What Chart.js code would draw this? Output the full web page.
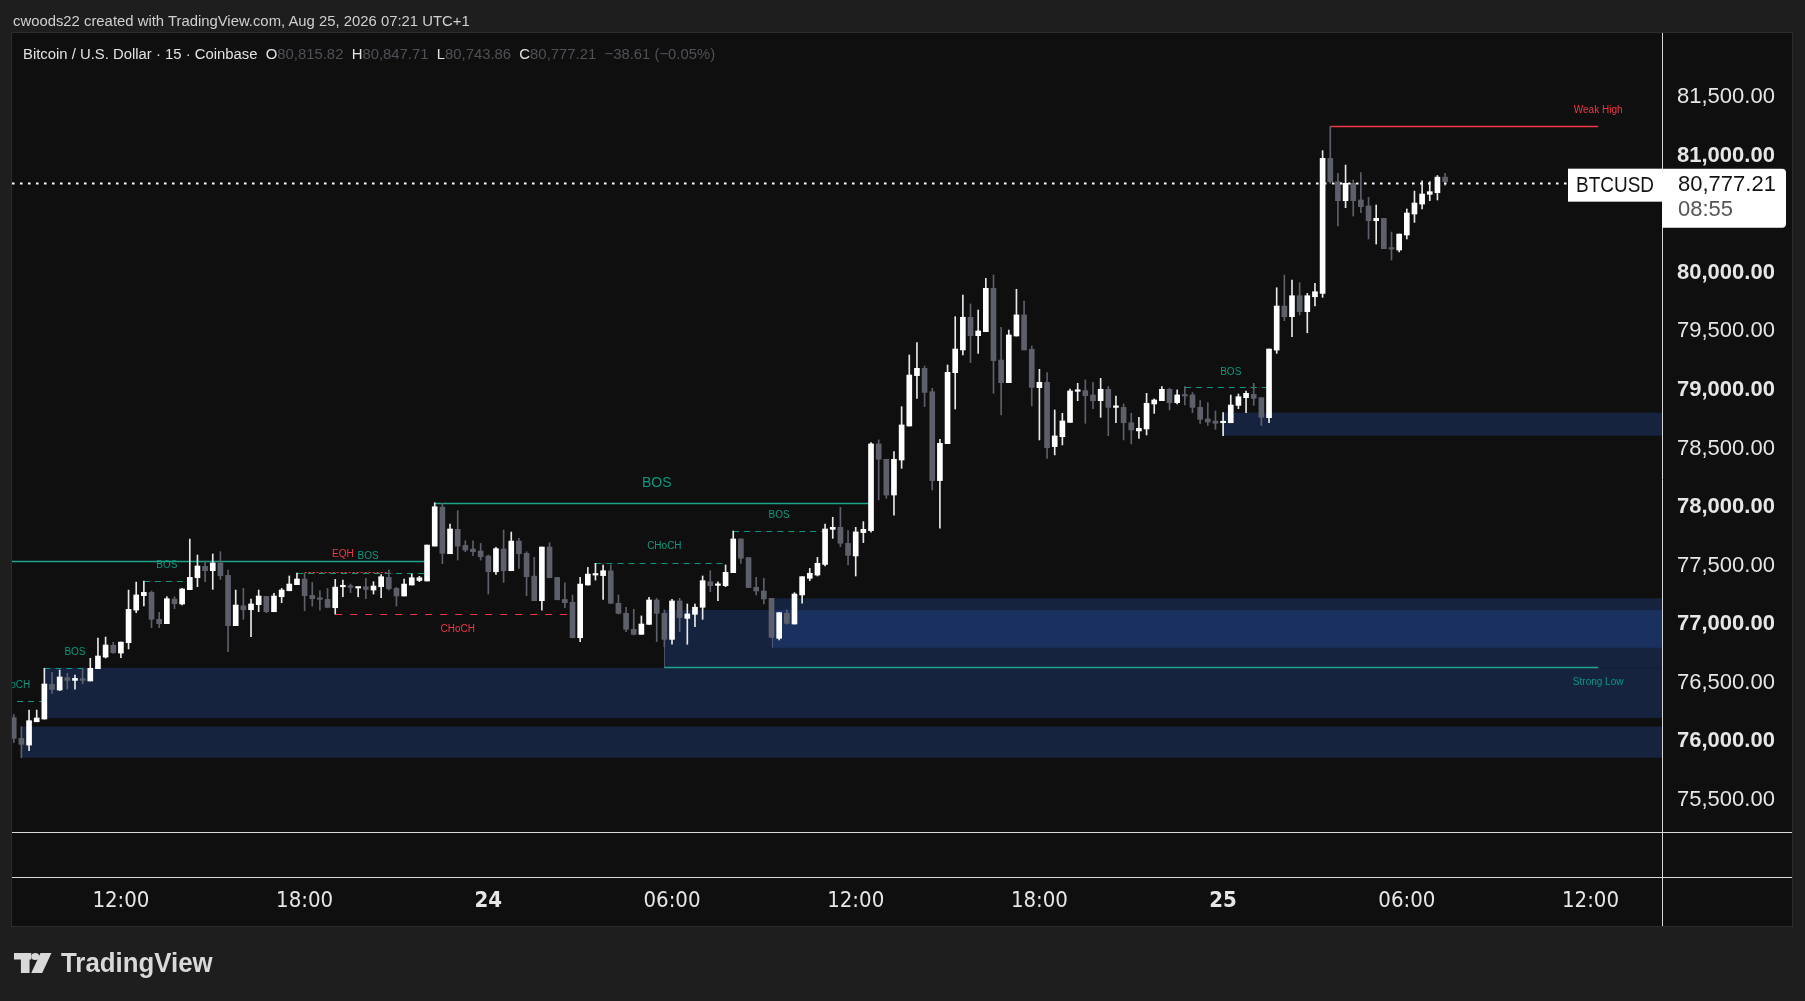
<!DOCTYPE html>
<html>
<head>
<meta charset="utf-8">
<script src="https://cdn.jsdelivr.net/npm/chart.js@4.4.1/dist/chart.umd.min.js"></script>
<style>
html, body { margin: 0; padding: 0; background: #1e1e1e; width: 1805px; height: 1001px; overflow: hidden; }
#wrap { position: relative; width: 1805px; height: 1001px; }
#c { position: absolute; left: 0; top: 0; }
.txt { position: absolute; white-space: nowrap; transform-origin: 0 50%; line-height: 18px;
       font-family: "Liberation Sans", "DejaVu Sans", sans-serif; }
#head { left: 13px; top: 12px; font-size: 15.5px; color: #d0d0d0; }
#legend { left: 23px; top: 45px; font-size: 15.5px; color: #e2e2e2; }
#legend .v { color: #4f5157; }
#logo { position: absolute; left: 14px; top: 951px; height: 26px; }
#logo svg { position: absolute; left: 0; top: 2px; }
#logoText { left: 47px; top: -1px; font-size: 27px; line-height: 26px; font-weight: bold; color: #d9d9d9; }
</style>
</head>
<body>
<div id="wrap">
  <canvas id="c" width="1805" height="1001"></canvas>
  <div class="txt" id="head">cwoods22 created with TradingView.com, Aug 25, 2026 07:21 UTC+1</div>
  <div class="txt" id="legend"></div>
  <div id="logo">
    <svg width="38" height="21" viewBox="0 0 33 21" preserveAspectRatio="none">
      <rect x="0" y="0" width="15" height="6.5" fill="#d9d9d9"/>
      <rect x="6" y="0" width="7.5" height="20" fill="#d9d9d9"/>
      <circle cx="18.5" cy="3.6" r="3.5" fill="#d9d9d9"/>
      <polygon points="23,0 32.5,0 24.5,20 15,20" fill="#d9d9d9"/>
    </svg>
    <div class="txt" id="logoText">TradingView</div>
  </div>
</div>
<script>
// BTCUSD, 15 min candles, Coinbase. Index 0 = Aug 23 12:00, one step = 15 minutes
const firstIndex = -14;

const opens = [
  76203, 76026, 75969, 76168, 76191, 76487, 76439, 76544, 76521, 76535,
  76516, 76621, 76720, 76820, 76754, 76843, 77121, 77244, 77272, 77042,
  77005, 77215, 77173, 77295, 77397, 77494, 77457, 77523, 77417, 76988,
  77158, 77124, 77167, 77238, 77107, 77235, 77286, 77338, 77386, 77246,
  77226, 77212, 77141, 77320, 77320, 77309, 77320, 77292, 77320, 77400,
  77306, 77241, 77335, 77374, 77369, 77667, 78000, 77602, 77810, 77673,
  77642, 77625, 77582, 77448, 77642, 77457, 77710, 77605, 77411, 77201,
  77659, 77400, 77212, 77187, 76885, 77335, 77420, 77415, 77455, 77179,
  77093, 76957, 76914, 76999, 77207, 77093, 76871, 77199, 77050, 77085,
  77145, 77363, 77332, 77329, 77440, 77728, 77569, 77315, 77284, 77221,
  76880, 77093, 77002, 77250, 77392, 77420, 77511, 77810, 77827, 77691,
  77583, 77782, 77799, 78539, 78408, 78103, 78402, 78692, 79122, 79184,
  78985, 78226, 78541, 79147, 79341, 79620, 79463, 79497, 79867, 79255,
  79062, 79460, 79640, 79347, 79019, 79065, 78516, 78601, 78723, 78988,
  78994, 78957, 78908, 79005, 78851, 78851, 78720, 78650, 78667, 78880,
  78908, 79005, 78891, 78957, 78957, 78851, 78752, 78734, 78720, 78720,
  78868, 78934, 78962, 78934, 78763, 79340, 79716, 79625, 79804, 79668,
  79795, 79824, 80976, 80777, 80615, 80763, 80621, 80570, 80444, 80464,
  80208, 80194, 80322, 80501, 80586, 80669, 80683, 80815.82
];
const highs = [
  76230, 76126, 76268, 76268, 76624, 76590, 76609, 76581, 76567, 76618,
  76709, 76882, 76891, 76845, 76848, 77292, 77360, 77369, 77284, 77102,
  77235, 77235, 77306, 77727, 77591, 77540, 77600, 77619, 77463, 77292,
  77306, 77215, 77292, 77238, 77264, 77306, 77412, 77437, 77434, 77357,
  77286, 77306, 77383, 77377, 77343, 77317, 77391, 77363, 77423, 77463,
  77315, 77386, 77428, 77409, 77676, 78037, 78031, 77855, 77969, 77713,
  77713, 77690, 77591, 77656, 77804, 77787, 77733, 77619, 77571, 77659,
  77696, 77400, 77354, 77249, 77400, 77485, 77520, 77506, 77506, 77250,
  77145, 77128, 77071, 77230, 77221, 77122, 77213, 77221, 77173, 77173,
  77412, 77457, 77363, 77506, 77796, 77728, 77569, 77401, 77392, 77221,
  77099, 77122, 77270, 77406, 77477, 77571, 77856, 77913, 77998, 77799,
  77827, 77876, 78550, 78573, 78408, 78473, 78857, 79298, 79403, 79204,
  79014, 78578, 79213, 79625, 79810, 79734, 79682, 79952, 79981, 79534,
  79511, 79859, 79759, 79375, 79176, 79147, 78829, 78800, 79008, 79056,
  79085, 79065, 79099, 79028, 78948, 78880, 78800, 78766, 78971, 78923,
  79028, 79014, 79000, 79028, 78977, 78908, 78891, 78820, 78806, 78956,
  78965, 78991, 79056, 78934, 79349, 79872, 79980, 79938, 79915, 79824,
  79909, 81042, 81250, 80848, 80919, 80791, 80854, 80643, 80578, 80464,
  80347, 80330, 80544, 80697, 80785, 80777, 80830, 80847.71
];
const lows = [
  75990, 75861, 75921, 76168, 76191, 76410, 76433, 76447, 76447, 76493,
  76516, 76621, 76712, 76752, 76715, 76789, 77099, 77156, 76971, 76971,
  77005, 77133, 77164, 77295, 77321, 77363, 77298, 77383, 76766, 76988,
  77042, 76894, 77107, 77099, 77107, 77184, 77286, 77338, 77116, 77155,
  77121, 77141, 77087, 77235, 77269, 77235, 77218, 77258, 77226, 77292,
  77155, 77241, 77335, 77363, 77369, 77667, 77517, 77602, 77548, 77619,
  77585, 77548, 77258, 77426, 77357, 77457, 77477, 77243, 77201, 77121,
  77397, 77209, 77141, 76885, 76851, 77335, 77377, 77213, 77179, 77088,
  76937, 76908, 76914, 76999, 76852, 76810, 76829, 76937, 76829, 76980,
  77042, 77278, 77201, 77321, 77440, 77520, 77313, 77250, 77173, 76888,
  76866, 77002, 77002, 77179, 77372, 77412, 77497, 77733, 77662, 77506,
  77412, 77697, 77785, 78061, 78075, 77932, 78331, 78692, 78928, 78857,
  78146, 77819, 78541, 78837, 79298, 79233, 79312, 79497, 78971, 78786,
  79062, 79460, 79341, 78863, 78573, 78416, 78445, 78530, 78723, 78908,
  78715, 78840, 78766, 78610, 78720, 78573, 78539, 78587, 78615, 78800,
  78908, 78829, 78880, 78871, 78806, 78715, 78697, 78663, 78609, 78720,
  78840, 78806, 78868, 78697, 78720, 79312, 79591, 79454, 79639, 79488,
  79716, 79790, 80763, 80399, 80555, 80484, 80512, 80288, 80245, 80205,
  80108, 80177, 80288, 80430, 80544, 80615, 80621, 80743.86
];
const closes = [
  76026, 75975, 76177, 76200, 76490, 76444, 76550, 76521, 76538, 76521,
  76624, 76729, 76823, 76757, 76848, 77127, 77250, 77272, 77042, 77005,
  77218, 77175, 77301, 77400, 77497, 77457, 77523, 77414, 76988, 77164,
  77124, 77173, 77241, 77107, 77241, 77292, 77343, 77386, 77244, 77218,
  77212, 77144, 77317, 77329, 77315, 77317, 77298, 77326, 77406, 77303,
  77241, 77343, 77397, 77397, 77676, 78003, 77605, 77813, 77667, 77633,
  77619, 77576, 77448, 77645, 77457, 77710, 77602, 77406, 77201, 77659,
  77397, 77209, 77184, 76885, 77343, 77428, 77426, 77457, 77179, 77093,
  76957, 76914, 77002, 77207, 77093, 76871, 77199, 77056, 77088, 77145,
  77372, 77329, 77338, 77443, 77728, 77563, 77313, 77284, 77216, 76888,
  77099, 77008, 77258, 77406, 77435, 77520, 77813, 77827, 77691, 77588,
  77788, 77810, 78539, 78408, 78103, 78408, 78701, 79127, 79184, 78979,
  78226, 78544, 79150, 79349, 79620, 79463, 79503, 79867, 79250, 79062,
  79469, 79640, 79341, 79022, 79065, 78507, 78607, 78735, 78991, 78994,
  78951, 78908, 79005, 78851, 78857, 78720, 78658, 78672, 78886, 78914,
  79005, 78891, 78957, 78948, 78851, 78749, 78726, 78715, 78726, 78871,
  78942, 78971, 78928, 78766, 79349, 79716, 79625, 79804, 79668, 79804,
  79838, 80976, 80777, 80615, 80763, 80615, 80564, 80444, 80464, 80205,
  80202, 80330, 80510, 80595, 80672, 80692, 80815.82, 80777.21
];

// axis ticks
const timeTickIdx = [0, 24, 48, 72, 96, 120, 144, 168, 192];
const timeTickText = ['12:00', '18:00', '24', '06:00', '12:00', '18:00', '25', '06:00', '12:00'];
const priceTicks = [75500, 76000, 76500, 77000, 77500, 78000, 78500, 79000, 79500, 80000, 80500, 81000, 81500];

// order blocks (start index, top, bottom), they run to the right edge
const zoneStart = [-10, -13, 71, 85, 144];
const zoneTop = [76629, 76126, 77122, 77222, 78806];
const zoneBottom = [76200, 75861, 76630, 76800, 78610];

// structure lines
const lineFrom = [-15, 41, -15, -10, 3, 23, 24, 28, 62, 80, 139, 158, 71];
const lineTo = [40, 98, -10, -4, 9, 40, 35, 59, 79, 92, 150, 193, 193];
const linePrice = [77540, 78033, 76345, 76624, 77371, 77437, 77448, 77088, 77520, 77796, 79028, 81250, 76638];
const lineKind = ['solid', 'solid', 'dash', 'dash', 'dash', 'dash', 'dot', 'dash', 'dash', 'dash', 'dash', 'solid', 'solid'];
const lineBull = [true, true, true, true, true, true, false, false, true, true, true, false, true];

// structure labels
const labelText = ['CHoCH', 'BOS', 'BOS', 'EQH', 'BOS', 'CHoCH', 'BOS', 'CHoCH', 'BOS', 'BOS', 'Weak High', 'Strong Low'];
const labelIdx = [-14.1, -6, 6, 29, 32.3, 44, 70, 71, 86, 145, 193, 193];
const labelPrice = [76481, 76758, 77506, 77598, 77577, 76960, 78203, 77662, 77932, 79155, 81389, 76507];
const labelBull = [true, true, true, false, true, false, true, true, true, true, false, true];
const labelBig = [false, false, false, false, false, false, true, false, false, false, false, false];

const lastPrice = closes[closes.length - 1];
const timeLeft = '08:55';

const BULL = '#089981', BULL_LINE = '#1fa38d', BEAR = '#f23645';
const UP = '#ffffff', DOWN = '#5d606b';

const idx = opens.map((_, i) => firstIndex + i);
const isUp = closes.map((c, i) => c >= opens[i]);

// legend line
const fmt = v => v.toLocaleString('en-US', { minimumFractionDigits: 2, maximumFractionDigits: 2 });
const n = closes.length - 1;
const chg = closes[n] - closes[n - 1];
const pct = chg / closes[n - 1] * 100;
const sgn = v => (v < 0 ? '\u2212' : '+') + Math.abs(v).toFixed(2);
document.getElementById('legend').innerHTML =
  'Bitcoin / U.S. Dollar \u00b7 15 \u00b7 Coinbase&nbsp;&nbsp;' +
  'O<span class="v">' + fmt(opens[n]) + '</span>&nbsp;&nbsp;' +
  'H<span class="v">' + fmt(highs[n]) + '</span>&nbsp;&nbsp;' +
  'L<span class="v">' + fmt(lows[n]) + '</span>&nbsp;&nbsp;' +
  'C<span class="v">' + fmt(closes[n]) + '</span>&nbsp;&nbsp;' +
  '<span class="v">' + sgn(chg) + ' (' + sgn(pct) + '%)</span>';

// match the snapshot text widths
function fitWidth(id, w) {
  const el = document.getElementById(id);
  el.style.transform = 'scaleX(' + (w / el.offsetWidth) + ')';
}
fitWidth('head', 457);
fitWidth('legend', 692);
fitWidth('logoText', 152);

const decor = {
  id: 'decor',
  beforeDraw(chart) {
    const c = chart.ctx;
    c.save();
    c.fillStyle = '#0f0f0f';
    c.fillRect(12, 33, 1780, 893);
    c.strokeStyle = '#2c2c2c';
    c.lineWidth = 1;
    c.strokeRect(11.5, 32.5, 1781, 894);
    c.restore();
  },
  beforeDatasetsDraw(chart) {
    const { ctx: c, chartArea: a, scales: { x, y } } = chart;
    c.save();
    c.beginPath();
    c.rect(a.left, a.top, a.right - a.left, a.bottom - a.top);
    c.clip();

    zoneStart.forEach((s, i) => {
      const x0 = x.getPixelForValue(s);
      const y0 = y.getPixelForValue(zoneTop[i]);
      const y1 = y.getPixelForValue(zoneBottom[i]);
      c.fillStyle = 'rgba(35,75,160,0.33)';
      c.fillRect(x0, y0, a.right - x0, y1 - y0);
      c.strokeStyle = 'rgba(120,126,142,0.55)';
      c.lineWidth = 1;
      c.beginPath();
      c.moveTo(Math.round(x0) + 0.5, y0);
      c.lineTo(Math.round(x0) + 0.5, y1);
      c.stroke();
    });

    lineFrom.forEach((f, i) => {
      const solid = lineKind[i] === 'solid';
      const yy = Math.round(y.getPixelForValue(linePrice[i])) + 0.5;
      c.strokeStyle = lineBull[i] ? (solid ? BULL_LINE : BULL) : BEAR;
      c.lineWidth = solid ? 1.5 : 1;
      c.setLineDash(lineKind[i] === 'dash' ? (lineBull[i] ? [6, 5] : [7, 8]) : lineKind[i] === 'dot' ? [2, 2] : []);
      c.beginPath();
      c.moveTo(x.getPixelForValue(f), yy);
      c.lineTo(x.getPixelForValue(lineTo[i]), yy);
      c.stroke();
    });
    c.setLineDash([]);

    c.textAlign = 'center';
    c.textBaseline = 'middle';
    labelText.forEach((t, i) => {
      c.font = (labelBig[i] ? '14px' : '10px') + ' "Liberation Sans", sans-serif';
      c.fillStyle = labelBull[i] ? BULL : BEAR;
      c.fillText(t, x.getPixelForValue(labelIdx[i]), y.getPixelForValue(labelPrice[i]));
    });
    c.restore();
  },
  afterDatasetsDraw(chart) {
    const { ctx: c, chartArea: a, scales: { y } } = chart;
    const py = Math.round(y.getPixelForValue(lastPrice)) + 1.5;
    c.save();
    c.strokeStyle = '#ffffff';
    c.lineWidth = 2;
    c.setLineDash([2.5, 5.5]);
    c.beginPath();
    c.moveTo(a.left, py);
    c.lineTo(a.right, py);
    c.stroke();
    c.restore();
  },
  afterDraw(chart) {
    const { ctx: c, chartArea: a, scales: { y } } = chart;
    c.save();
    c.strokeStyle = '#d8d8d8';
    c.lineWidth = 1;
    c.beginPath();
    c.moveTo(a.right + 0.5, 33);
    c.lineTo(a.right + 0.5, 926);
    c.moveTo(12, a.bottom + 0.5);
    c.lineTo(1792, a.bottom + 0.5);
    c.moveTo(12, 877.5);
    c.lineTo(1792, 877.5);
    c.stroke();

    const py = y.getPixelForValue(lastPrice) + 1;
    c.fillStyle = '#ffffff';
    c.fillRect(a.right - 94, py - 14, 94, 33);
    c.beginPath();
    c.roundRect(a.right, py - 14, 124, 59, [0, 4, 4, 0]);
    c.fill();
    c.fillStyle = '#131313';
    c.textBaseline = 'middle';
    c.textAlign = 'left';
    c.font = '22px "Liberation Sans", sans-serif';
    c.fillText('BTCUSD', a.right - 86, py + 3, 78);
    c.fillText(fmt(lastPrice), a.right + 16, py + 2, 98);
    c.fillStyle = '#555555';
    c.fillText(timeLeft, a.right + 16, py + 27);
    c.restore();
  }
};

new Chart(document.getElementById('c'), {
  type: 'bar',
  data: {
    datasets: [
      {
        label: 'body',
        data: idx.map((v, i) => ({ x: v, y: [opens[i], closes[i]] })),
        backgroundColor: isUp.map(u => (u ? UP : DOWN)),
        barThickness: 5,
        minBarLength: 1.5,
        borderWidth: 0,
        grouped: false,
        order: 0
      },
      {
        label: 'wick',
        data: idx.map((v, i) => ({ x: v, y: [lows[i], highs[i]] })),
        backgroundColor: isUp.map(u => (u ? '#e8e8e8' : DOWN)),
        barThickness: 1,
        borderWidth: 0,
        grouped: false,
        order: 1
      }
    ]
  },
  options: {
    responsive: false,
    animation: false,
    events: [],
    layout: { padding: { left: 12, top: 35, right: 13, bottom: 76 } },
    plugins: { legend: { display: false }, tooltip: { enabled: false } },
    scales: {
      x: {
        type: 'linear',
        min: -14.228,
        max: 201.34,
        offset: false,
        grid: { display: false, drawTicks: false },
        border: { display: false },
        afterBuildTicks: s => { s.ticks = timeTickIdx.map(v => ({ value: v })); },
        afterFit: s => { s.height = 93; },
        ticks: {
          autoSkip: false,
          maxRotation: 0,
          padding: 56,
          color: '#e6e6e6',
          font: ctx => ({
            family: '"Liberation Sans Narrow", "DejaVu Sans Condensed", sans-serif',
            size: 22,
            weight: ctx.tick && timeTickText[timeTickIdx.indexOf(ctx.tick.value)].length === 2 ? 'bold' : 'normal'
          }),
          callback: v => timeTickText[timeTickIdx.indexOf(v)]
        }
      },
      y: {
        type: 'linear',
        position: 'right',
        min: 75227,
        max: 82029,
        grid: { display: false, drawTicks: false },
        border: { display: false },
        afterBuildTicks: s => { s.ticks = priceTicks.map(v => ({ value: v })); },
        afterFit: s => { s.width = 130; },
        ticks: {
          padding: 15,
          color: '#e6e6e6',
          font: ctx => ({
            family: '"Liberation Sans", sans-serif',
            size: 22,
            weight: ctx.tick && ctx.tick.value % 1000 === 0 ? 'bold' : 'normal'
          }),
          callback: v => fmt(v)
        }
      }
    }
  },
  plugins: [decor]
});
</script>
</body>
</html>
